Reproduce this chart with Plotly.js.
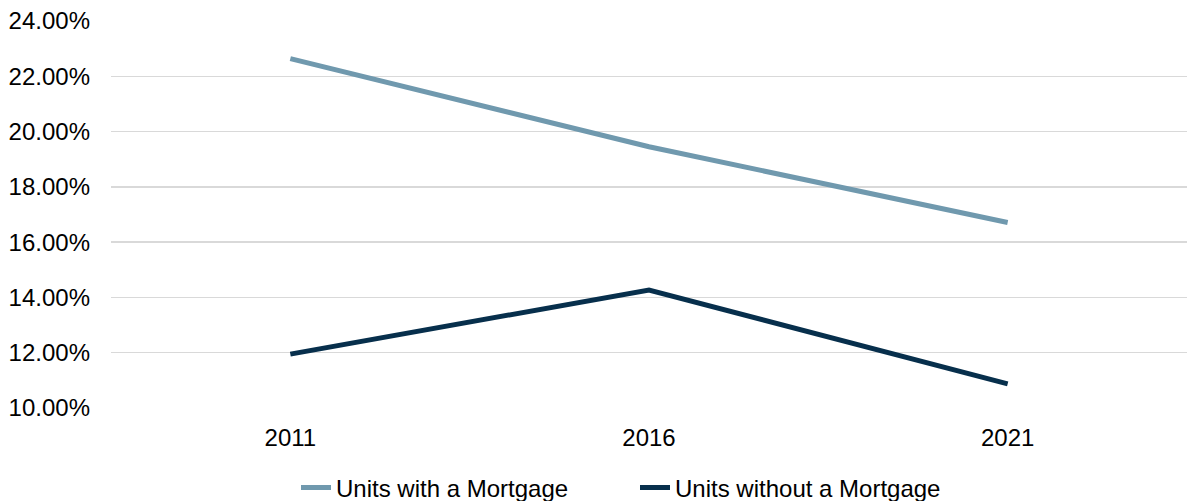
<!DOCTYPE html>
<html>
<head>
<meta charset="utf-8">
<script src="https://cdn.plot.ly/plotly-3.0.1.min.js"></script>
<style>html,body{margin:0;padding:0;background:#fff;}#chart{width:1187px;height:501px;}</style>
</head>
<body>
<div id="chart"></div>
<script>
const years = ["2011", "2016", "2021"];
const withMortgage = [0.2264, 0.1945, 0.1671];
const withoutMortgage = [0.1195, 0.1427, 0.1087];
const seriesNames = ["Units with a Mortgage", "Units without a Mortgage"];
const seriesColors = ["#7099AE", "#072F4C"];

const font = {family: "Liberation Sans, Arial, sans-serif", size: 24, color: "#000000"};

const traces = [
  {x: years, y: withMortgage, name: seriesNames[0], type: "scatter", mode: "lines",
   line: {color: seriesColors[0], width: 5}},
  {x: years, y: withoutMortgage, name: seriesNames[1], type: "scatter", mode: "lines",
   line: {color: seriesColors[1], width: 5}}
];

const layout = {
  width: 1187, height: 501,
  margin: {l: 111, r: 0, t: 20.5, b: 92.5},
  paper_bgcolor: "#ffffff", plot_bgcolor: "#ffffff",
  font: font,
  showlegend: true,
  legend: {orientation: "h", x: 296 / 1187, xanchor: "left", xref: "container",
           y: 0.026, yanchor: "middle", yref: "container", font: font, traceorder: "normal",
           entrywidth: 294, entrywidthmode: "pixels"},
  xaxis: {type: "category", range: [-0.5, 2.5], showgrid: false, zeroline: false,
          showline: false, ticks: "", tickfont: font, ticklabelstandoff: 13, fixedrange: true},
  yaxis: {range: [0.10, 0.24], dtick: 0.02, tick0: 0.10, tickformat: ".2%",
          showgrid: true, gridcolor: "#d9d9d9", gridwidth: 1.5, zeroline: false,
          showline: false, ticks: "", tickfont: font, ticklabelstandoff: 20, fixedrange: true}
};

Plotly.newPlot("chart", traces, layout, {displayModeBar: false, staticPlot: true});
</script>
</body>
</html>
